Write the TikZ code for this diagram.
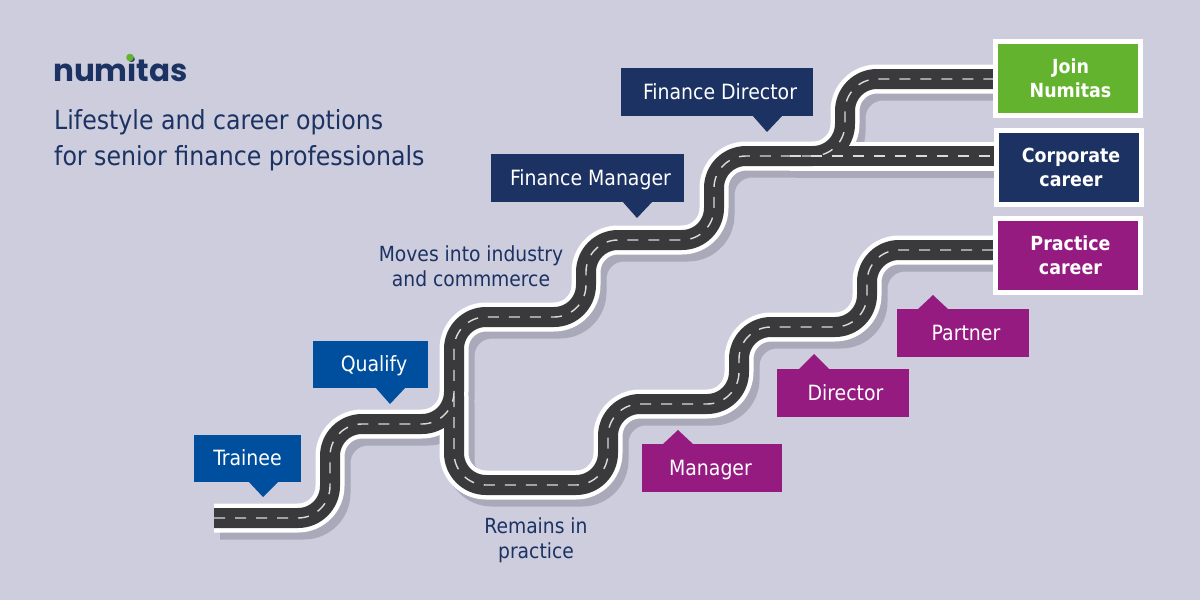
\documentclass[tikz,border=0pt]{standalone}
\usepackage{fontspec}
\setmainfont{DejaVu Sans Condensed}
\newfontfamily\logofont{Poppins}
\definecolor{bgc}{HTML}{CDCDDD}
\definecolor{roadc}{HTML}{3A3A3C}
\definecolor{shadowc}{HTML}{A9A9B9}
\definecolor{bluec}{HTML}{004F9F}
\definecolor{navyc}{HTML}{1B3263}
\definecolor{purplec}{HTML}{951B81}
\definecolor{greenc}{HTML}{63B32E}
\definecolor{dashc}{HTML}{DADADA}
\tikzset{
  calloutbox/.style={fill=#1,text=white,inner sep=0pt,text height=15pt,text depth=1pt,font=\fontsize{21}{24}\selectfont},
  endbox/.style={fill=#1,draw=white,line width=5pt,text=white,inner sep=0pt,align=center,
    minimum width=145pt,minimum height=74pt,font=\fontsize{19.4}{24}\bfseries\selectfont},
  plain/.style={text=navyc,align=center,inner sep=0pt,font=\fontsize{20.8}{24.5}\selectfont},
  roads/.style={line cap=butt,line join=round,rounded corners=32pt}
}
\newcommand{\sft}[1]{\hspace*{#1pt}}
\newcommand{\roadpaths}[1]{%
  \draw[roads,#1] (214,518) -- (330,518) -- (330,424) -- (454,424) -- (454,317) -- (586,317) -- (586,240) -- (714,240) -- (714,156) -- (845,156) -- (845,79) -- (1000,79);
  \draw[#1,line cap=butt] (790,156) -- (1000,156);
  \draw[roads,#1] (454,396) -- (454,485) -- (608,485) -- (608,404) -- (739,404) -- (739,327) -- (867,327) -- (867,250) -- (1000,250);
}
\begin{document}
\begin{tikzpicture}[x=1pt,y=-1pt]
\useasboundingbox (0,0) rectangle (1200,600);
\fill[bgc] (0,0) rectangle (1200,600);
% road layers
\begin{scope}[shift={(6,7)}]
\roadpaths{shadowc,line width=29pt}
\end{scope}
\roadpaths{white,line width=29pt}
\roadpaths{roadc,line width=20pt}
\roadpaths{dashc,line width=1.4pt,dash pattern=on 11pt off 10pt}
% callouts
\node[calloutbox=bluec,minimum width=107pt,minimum height=47pt] (trainee) at (247.5,458.5) {Trainee};
\fill[bluec] (248,481) -- (263,497) -- (279,481) -- cycle;
\node[calloutbox=bluec,minimum width=115pt,minimum height=47pt] (qualify) at (370.5,364.5) {\sft{7}Qualify};
\fill[bluec] (375,387) -- (390,404) -- (406,387) -- cycle;
\node[calloutbox=navyc,minimum width=193pt,minimum height=48pt] (fm) at (587.5,178) {\sft{6}Finance Manager};
\fill[navyc] (622,201) -- (637,218) -- (653,201) -- cycle;
\node[calloutbox=navyc,minimum width=192pt,minimum height=48pt] (fd) at (717,92) {\sft{6}Finance Director};
\fill[navyc] (752,115) -- (767,132) -- (783,115) -- cycle;
\node[calloutbox=purplec,minimum width=140pt,minimum height=48pt] (mgr) at (712,468) {\hspace*{-3pt}Manager};
\fill[purplec] (662,445) -- (678,430) -- (694,445) -- cycle;
\node[calloutbox=purplec,minimum width=132pt,minimum height=48pt] (dir) at (843,393) {\sft{5}Director};
\fill[purplec] (798,370) -- (814,354) -- (830,370) -- cycle;
\node[calloutbox=purplec,minimum width=132pt,minimum height=48pt] (par) at (963,333) {\sft{6}Partner};
\fill[purplec] (917,310) -- (933,295) -- (949,310) -- cycle;
% end boxes
\node[endbox=greenc] (join) at (1068,78) {\sft{5}Join\\\sft{5}Numitas};
\node[endbox=navyc] (corp) at (1068.5,167.5) {\sft{5}Corporate\\\sft{5}career};
\node[endbox=purplec] (prac) at (1068,255.5) {\sft{5}Practice\\\sft{5}career};
% labels
\node[plain] (moves) at (471,266) {Moves into industry\\and commmerce};
\node[plain] (remains) at (536,540.5) {Remains in\\practice};
% heading
\node[anchor=base west,inner sep=0pt,text=navyc,font=\logofont\fontsize{31}{31}\bfseries\selectfont] (logo) at (53,81) {numitas};
\fill[greenc] (130,57.5) circle (3.8);
\node[anchor=north west,inner sep=0pt,text=navyc,align=left,font=\fontsize{26.3}{36}\selectfont] (title) at (54,109) {Lifestyle and career options\\for senior finance professionals};
\end{tikzpicture}
\end{document}
